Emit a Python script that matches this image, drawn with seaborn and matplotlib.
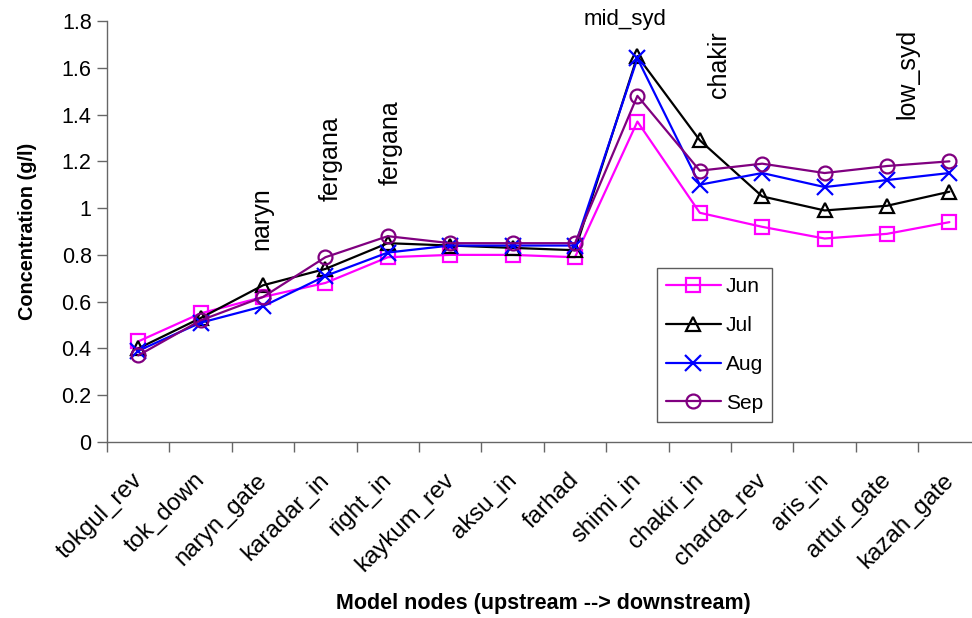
import matplotlib
matplotlib.use("Agg")
import matplotlib.pyplot as plt
from matplotlib.ticker import FixedLocator, FuncFormatter
from matplotlib.transforms import ScaledTranslation
import numpy as np
import pandas as pd
import seaborn as sns

nodes = ["tokgul_rev", "tok_down", "naryn_gate", "karadar_in", "right_in",
         "kaykum_rev", "aksu_in", "farhad", "shimi_in", "chakir_in",
         "charda_rev", "aris_in", "artur_gate", "kazah_gate"]

jun = [0.43, 0.55, 0.62, 0.68, 0.79, 0.80, 0.80, 0.79, 1.37, 0.98, 0.92, 0.87, 0.89, 0.94]
jul = [0.40, 0.53, 0.67, 0.74, 0.85, 0.84, 0.83, 0.82, 1.65, 1.29, 1.05, 0.99, 1.01, 1.07]
aug = [0.39, 0.51, 0.58, 0.71, 0.81, 0.84, 0.84, 0.84, 1.64, 1.10, 1.15, 1.09, 1.12, 1.15]
sep = [0.37, 0.52, 0.62, 0.79, 0.88, 0.85, 0.85, 0.85, 1.48, 1.16, 1.19, 1.15, 1.18, 1.20]

months = ["Jun", "Jul", "Aug", "Sep"]
colors = ["#FF00FF", "#000000", "#0000FF", "#800080"]
markers = ["s", "^", "x", "o"]

y_ticks = [0, 0.2, 0.4, 0.6, 0.8, 1.0, 1.2, 1.4, 1.6, 1.8]

# river reach labels: (text, node position, concentration at text end, rotation)
reaches = [("naryn", 1.97, 0.82, 90), ("fergana", 3.09, 1.03, 90), ("fergana", 4.04, 1.10, 90),
           ("mid_syd", 7.8, 1.76, 0), ("chakir", 9.3, 1.47, 90), ("low_syd", 12.32, 1.38, 90)]

df = pd.DataFrame({
    "node": np.tile(np.arange(len(nodes)), len(months)),
    "conc": jun + jul + aug + sep,
    "month": np.repeat(months, len(nodes)),
})

sns.set_style("white", {"xtick.bottom": True, "ytick.left": True,
                        "axes.edgecolor": "#666666"})
plt.rcParams["font.family"] = ["Liberation Sans", "DejaVu Sans"]
for key in ["text.color", "axes.labelcolor", "xtick.labelcolor", "ytick.labelcolor"]:
    plt.rcParams[key] = "black"

fig = plt.figure(figsize=(9.72, 6.18), dpi=100)
ax = fig.add_axes([107 / 972, 1 - 442 / 618, 873.6 / 972, 421 / 618])

for m, c, mk in zip(months, colors, markers):
    sub = df[df["month"] == m]
    sns.lineplot(data=sub, x="node", y="conc", ax=ax, color=c, linewidth=1.6,
                 marker=mk, markersize=10 if mk != "x" else 11,
                 markerfacecolor="none" if mk != "x" else c,
                 markeredgecolor=c, markeredgewidth=1.6, label=m)

ax.set_xlim(-0.5, len(nodes) - 0.5)
ax.set_ylim(0, 1.8)
ax.set_yticks(y_ticks)
ax.yaxis.set_major_formatter(FuncFormatter(lambda v, _: f"{v:g}"))
ax.set_xticks(np.arange(len(nodes)))
ax.set_xticklabels(nodes, rotation=45, ha="right", rotation_mode="anchor")
ax.xaxis.set_minor_locator(FixedLocator(np.arange(-0.5, len(nodes), 1)))
ax.tick_params(axis="x", which="major", length=0, pad=16, labelsize=17.3)
ax.tick_params(axis="x", which="minor", length=7, width=1, color="#666666", direction="out")
ax.tick_params(axis="y", length=7, width=1, color="#666666", direction="out", labelsize=15.5, pad=4)

# nudge the slanted node names so their ends sit under each category
shift = ScaledTranslation(-7 / 100, -5 / 100, fig.dpi_scale_trans)
for lbl in ax.get_xticklabels():
    lbl.set_transform(lbl.get_transform() + shift)

for side in ["top", "right"]:
    ax.spines[side].set_visible(False)
for side in ["left", "bottom"]:
    ax.spines[side].set_linewidth(1)

ax.set_xlabel("Model nodes (upstream --> downstream)", fontsize=15.5, fontweight="bold", labelpad=12)
ax.set_ylabel("Concentration (g/l)", fontsize=14.3, fontweight="bold", labelpad=18)

for text, xi, yv, rot in reaches:
    ax.text(xi, yv, text, rotation=rot, fontsize=16 if rot == 0 else 18,
            ha="center", va="bottom")

leg = ax.legend(loc="upper left", bbox_to_anchor=(550 / 873.6, (442 - 268) / 421),
                frameon=True, fancybox=False, edgecolor="#333333", fontsize=15,
                handlelength=2.6, borderpad=0.45, labelspacing=0.95, handletextpad=0.25,
                borderaxespad=0)
leg.get_frame().set_linewidth(1)

fig.savefig("out.png", dpi=100)
